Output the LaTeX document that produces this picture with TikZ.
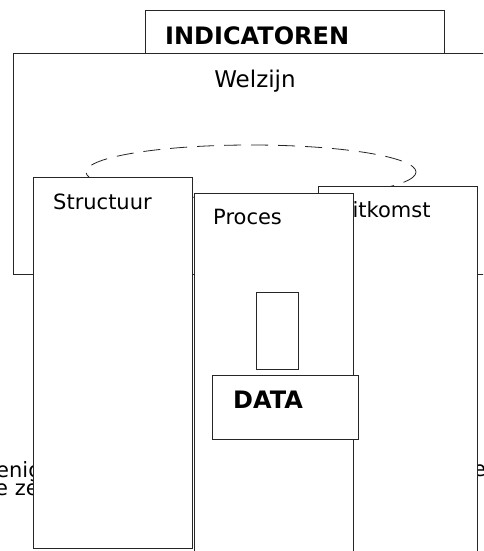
\documentclass[tikz,border=0pt]{standalone}
\usepackage{fontspec}
\setmainfont{DejaVu Sans}
\usepackage{tikz}
\usetikzlibrary{positioning}

\tikzset{
  panel/.style={draw=black!85, line width=0.8pt, fill=white},
  label/.style={inner sep=0pt, font=\fontsize{21}{21}\selectfont},
  title/.style={inner sep=0pt, font=\fontsize{24}{24}\selectfont\bfseries}
}

\begin{document}
\begin{tikzpicture}[x=1pt,y=-1pt]
\useasboundingbox (0,0) rectangle (483,551);
\clip (0,0) rectangle (483,551);

% indicatoren
\draw[panel] (145,10) rectangle (444,60);
\node[title, anchor=base west] (indicatoren) at (165,45) {INDICATOREN};

% welzijn
\draw[panel] (13,53) rectangle (495,274);
\node[label, anchor=base, font=\fontsize{23}{23}\selectfont] (welzijn) at (255,87) {Welzijn};
\draw[black!85, line width=0.8pt, dash pattern=on 17pt off 10pt] (251,172) ellipse (165 and 27);

\node[label, anchor=base west] (enig) at (-4,477) {enig};
\node[label, anchor=base west] (eze) at (-5,495) {e ze};
\node[label, anchor=base west] (erest) at (473,476) {e};

% structuur, uitkomst, proces
\draw[panel] (33,177) rectangle (192,548);
\node[label, anchor=base west] (structuur) at (53,209) {Structuur};

\draw[panel] (318,186) rectangle (477,560);
\node[label, anchor=base west] (uitkomst) at (337,217) {Uitkomst};

\draw[panel] (194,193) rectangle (353,560);
\node[label, anchor=base west] (proces) at (213,224) {Proces};

% data
\draw[panel] (256,292) rectangle (298,369);
\draw[panel] (212,375) rectangle (358,439);
\node[title, anchor=base west] (data) at (233,408) {DATA};
\end{tikzpicture}
\end{document}
